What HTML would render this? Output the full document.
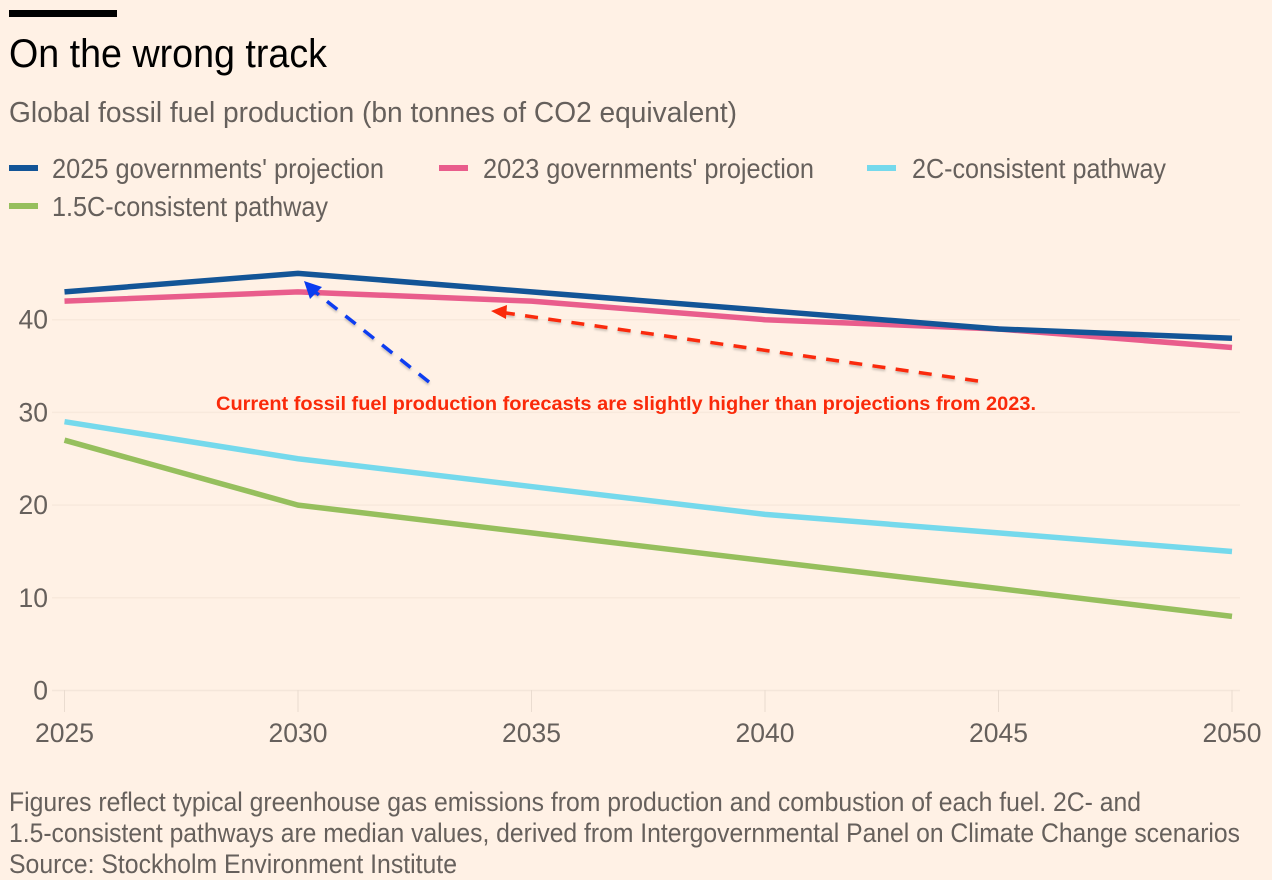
<!DOCTYPE html>
<html lang="en">
<head>
<meta charset="utf-8">
<title>On the wrong track</title>
<style>
html,body{margin:0;padding:0;background:#fff1e5;}
body{width:1272px;height:880px;overflow:hidden;}
svg{display:block;}
text{font-family:"Liberation Sans",sans-serif;}
</style>
</head>
<body>
<svg id="chart" width="1272" height="880" viewBox="0 0 1272 880" xmlns="http://www.w3.org/2000/svg">
  <defs>
    <filter id="soft-shadow" x="-10%" y="-10%" width="120%" height="130%">
      <feDropShadow dx="0" dy="2" stdDeviation="1" flood-color="#000" flood-opacity="0.2"/>
    </filter>
  </defs>
  <rect x="0" y="0" width="1272" height="880" fill="#fff1e5"/>
  <rect x="9" y="10" width="108" height="7" fill="#000"/>
  <text x="9" y="67" font-size="40" fill="#000" textLength="318" lengthAdjust="spacingAndGlyphs">On the wrong track</text>
  <text x="9" y="122" font-size="29" fill="#66605c" textLength="728" lengthAdjust="spacingAndGlyphs">Global fossil fuel production (bn tonnes of CO2 equivalent)</text>

  <g font-size="28" fill="#66605c">
    <rect x="9" y="165" width="29" height="6" fill="#135597"/>
    <text x="52" y="178" textLength="332" lengthAdjust="spacingAndGlyphs">2025 governments' projection</text>
    <rect x="439" y="165" width="29" height="6" fill="#e95d8c"/>
    <text x="483" y="178" textLength="331" lengthAdjust="spacingAndGlyphs">2023 governments' projection</text>
    <rect x="867" y="165" width="29" height="6" fill="#75d9ec"/>
    <text x="912" y="178" textLength="254" lengthAdjust="spacingAndGlyphs">2C-consistent pathway</text>
    <rect x="9" y="203" width="29" height="6" fill="#96bf5d"/>
    <text x="52" y="216" textLength="276" lengthAdjust="spacingAndGlyphs">1.5C-consistent pathway</text>
  </g>

  <g id="grid"></g>
  <g id="xaxis"></g>
  <g id="yaxis"></g>
  <g id="series"></g>

  <g>
    <line x1="429" y1="382" x2="314" y2="291" stroke="#0a3cf0" stroke-width="3.5" stroke-dasharray="13 10.4" filter="url(#soft-shadow)"/>
    <polygon points="304,281 322,287 310,299" fill="#0a3cf0"/>
    <line x1="978" y1="381" x2="506" y2="313" stroke="#fa2a0a" stroke-width="3.5" stroke-dasharray="13 10.4" filter="url(#soft-shadow)"/>
    <polygon points="491,311 507,305 506,319" fill="#fa2a0a"/>
    <text x="216" y="410" font-size="19.5" font-weight="bold" fill="#fa2a0a" textLength="820" lengthAdjust="spacingAndGlyphs">Current fossil fuel production forecasts are slightly higher than projections from 2023.</text>
  </g>

  <g font-size="26.5" fill="#66605c">
    <text x="9" y="811" textLength="1132" lengthAdjust="spacingAndGlyphs">Figures reflect typical greenhouse gas emissions from production and combustion of each fuel. 2C- and</text>
    <text x="9" y="842" textLength="1231" lengthAdjust="spacingAndGlyphs">1.5-consistent pathways are median values, derived from Intergovernmental Panel on Climate Change scenarios</text>
    <text x="9" y="873" textLength="448" lengthAdjust="spacingAndGlyphs">Source: Stockholm Environment Institute</text>
  </g>
</svg>
<script>
var years = [2025, 2030, 2035, 2040, 2045, 2050];
var yTicks = [0, 10, 20, 30, 40];
var series2025 = [43, 45, 43, 41, 39, 38];
var series2023 = [42, 43, 42, 40, 39, 37];
var series2C = [29, 25, 22, 19, 17, 15];
var series15C = [27, 20, 17, 14, 11, 8];

var NS = 'http://www.w3.org/2000/svg';
function xScale(year) { return 64.5 + (year - 2025) * (1232 - 64.5) / 25; }
function yScale(value) { return 690.5 - value * 9.27; }
function make(tag, attrs, parent) {
  var el = document.createElementNS(NS, tag);
  for (var k in attrs) { el.setAttribute(k, attrs[k]); }
  parent.appendChild(el);
  return el;
}

var grid = document.getElementById('grid');
var yaxis = document.getElementById('yaxis');
yTicks.forEach(function (t) {
  var y = yScale(t);
  var line = make('line', { x1: 52, x2: 1240, y1: y, y2: y, stroke: t === 0 ? '#f4e6da' : '#f8e9dc', 'stroke-width': 1.5 }, grid);
  
  
  var label = make('text', { x: 48, y: y + 9, 'text-anchor': 'end', 'font-size': 26.5, fill: '#66605c' }, yaxis);
  
  
  label.textContent = t;
});

var xaxis = document.getElementById('xaxis');
years.forEach(function (yr) {
  var x = xScale(yr);
  var tick = make('line', { x1: x, x2: x, y1: 690, y2: 712, stroke: '#eadcd0', 'stroke-width': 1 }, xaxis);
  
  
  var label = make('text', { x: x, y: 742, 'text-anchor': 'middle', 'font-size': 26.5, fill: '#66605c' }, xaxis);
  
  
  label.textContent = yr;
});

function drawLine(values, color, name) {
  var pts = values.map(function (v, i) { return xScale(years[i]) + ',' + yScale(v); }).join(' ');
  var poly = make('polyline', { points: pts, fill: 'none', stroke: color, 'stroke-width': 5.5, 'stroke-linejoin': 'round' }, document.getElementById('series'));
  
  
}
drawLine(series15C, '#96bf5d', 'line-1-5c-pathway');
drawLine(series2C, '#75d9ec', 'line-2c-pathway');
drawLine(series2023, '#e95d8c', 'line-2023-projection');
drawLine(series2025, '#135597', 'line-2025-projection');
</script>
</body>
</html>
